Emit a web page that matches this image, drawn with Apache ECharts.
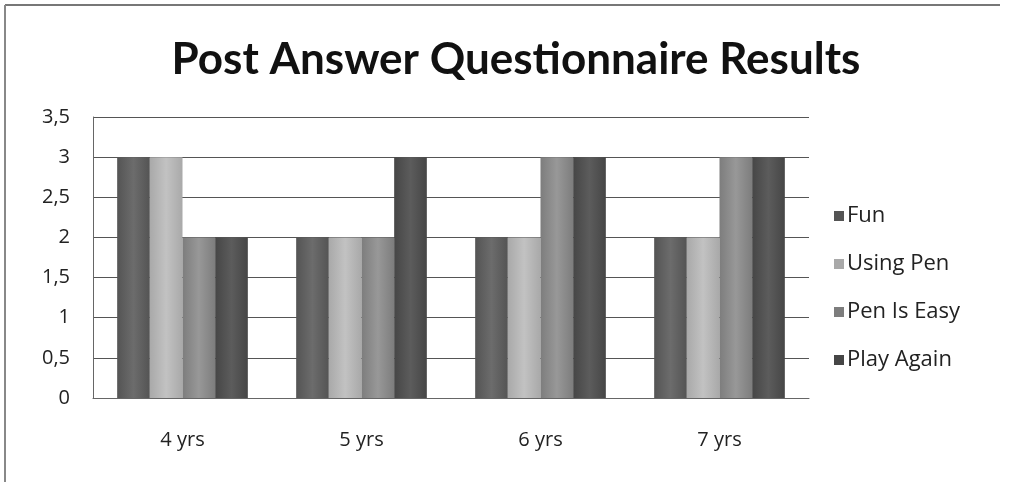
<!DOCTYPE html>
<html><head><meta charset="utf-8">
<script src="https://cdn.jsdelivr.net/npm/echarts@6/dist/echarts.min.js"></script>
<style>html,body{margin:0;padding:0;background:#fff}#c{width:1009px;height:482px}</style>
</head><body><div id="c"></div>
<script>
const categories = ['4 yrs', '5 yrs', '6 yrs', '7 yrs'];
const seriesNames = ['Fun', 'Using Pen', 'Pen Is Easy', 'Play Again'];
const fun = [3, 2, 2, 2];
const usingPen = [3, 2, 2, 2];
const penIsEasy = [2, 2, 3, 3];
const playAgain = [2, 3, 3, 3];
const yTicks = [0, 0.5, 1, 1.5, 2, 2.5, 3, 3.5];

const seriesData = [fun, usingPen, penIsEasy, playAgain];
const edge = ['#545454', '#a9a9a9', '#7d7d7d', '#464646'];
const mid = ['#6c6c6c', '#c2c2c2', '#989898', '#5c5c5c'];
const font = 'Lato, "Open Sans", sans-serif';
const font2 = '"Open Sans", Lato, sans-serif';

function grad(i) {
  return new echarts.graphic.LinearGradient(0, 0, 1, 0, [
    {offset: 0, color: edge[i]}, {offset: 0.5, color: mid[i]}, {offset: 1, color: edge[i]}
  ]);
}

const chart = echarts.init(document.getElementById('c'), null, {renderer: 'canvas'});
chart.setOption({
  animation: false,
  backgroundColor: '#fff',
  title: {
    text: 'Post Answer Questionnaire Results',
    left: 511, top: 33, textAlign: 'center',
    textStyle: {fontFamily: font, fontWeight: 'bold', fontSize: 44, color: '#111'}
  },
  grid: {left: 93, right: 200, top: 117, bottom: 84, containLabel: false},
  legend: {
    data: seriesNames.map((n, i) => ({name: n, itemStyle: {color: edge[i]}})),
    orient: 'vertical', left: 829, top: 200, itemGap: 26,
    itemWidth: 10, itemHeight: 10, icon: 'rect',
    textStyle: {fontFamily: font2, fontSize: 22, lineHeight: 22, color: '#222', padding: [0, 0, 0, -2]}
  },
  xAxis: {
    type: 'category', data: categories,
    axisLine: {lineStyle: {color: '#666', width: 1}},
    axisTick: {show: false},
    axisLabel: {fontFamily: font2, fontSize: 20, color: '#222', margin: 32}
  },
  yAxis: {
    type: 'value', min: 0, max: 3.5, interval: 0.5,
    axisLine: {show: true, lineStyle: {color: '#666', width: 1}},
    axisTick: {show: false},
    splitLine: {lineStyle: {color: '#555', width: 1}},
    axisLabel: {
      fontFamily: font2, fontSize: 20, color: '#222', margin: 23,
      formatter: v => yTicks.includes(v) ? String(v).replace('.', ',') : ''
    }
  },
  series: seriesData.map((d, i) => ({
    name: seriesNames[i], type: 'bar', data: d,
    barGap: '0%', barCategoryGap: '27%',
    itemStyle: {color: grad(i)}
  })),
  graphic: [
    {type: 'line', shape: {x1: 5, y1: 5, x2: 1000, y2: 5}, style: {stroke: '#777', lineWidth: 2}},
    {type: 'line', shape: {x1: 5, y1: 5, x2: 5, y2: 482}, style: {stroke: '#888', lineWidth: 2}}
  ]
});
</script>
</body></html>
